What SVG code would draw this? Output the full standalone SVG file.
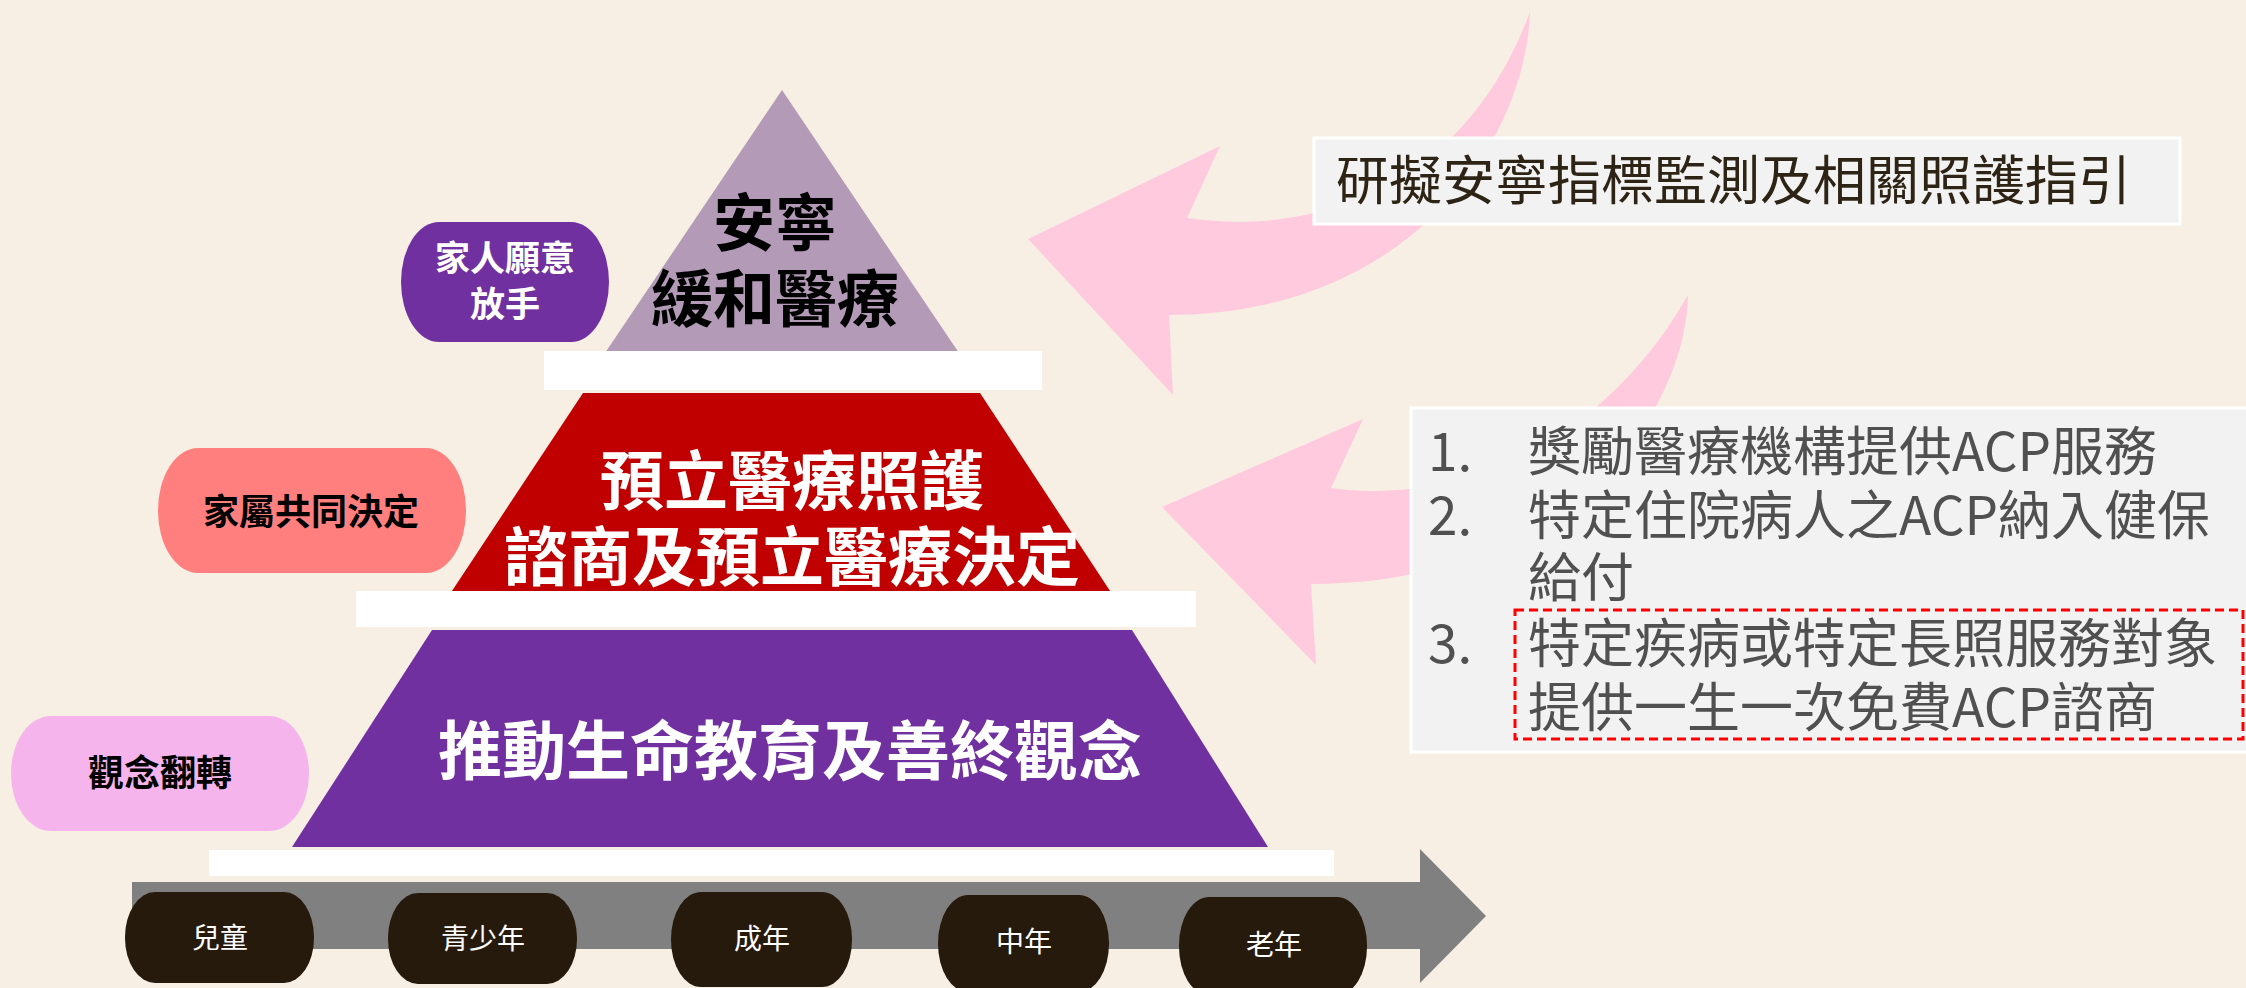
<svg xmlns="http://www.w3.org/2000/svg" width="2246" height="988" viewBox="0 0 2246 988">
<style>
text{font-family:"Noto Sans CJK TC","Noto Sans CJK SC",sans-serif}
.pyr{font-weight:bold;text-anchor:middle}
.lbl{font-weight:bold;text-anchor:middle;font-size:36px}
.age{fill:#ffffff;text-anchor:middle;font-size:28px}
.agepill{fill:#261a0c}
.bar{fill:#ffffff}
.pinkarrow{fill:#ffcade}
.box{fill:#f2f2f2;stroke:#ffffff;stroke-width:3}
.b2{font-size:53px;fill:#505050}
</style>
<rect x="0" y="0" width="2246" height="988" fill="#f7efe4"/>

<g id="arrows">
<path class="pinkarrow" d="M1530,12 C1525,150 1400,315 1169,315 L1173,395 L1028,239 L1220,146 L1187,218 C1300,235 1460,200 1530,12 Z"/>
<path class="pinkarrow" d="M1688,295 C1685,420 1560,584 1311,584 L1316,665 L1162,507 L1363,419 L1331,488 C1450,505 1600,450 1688,295 Z"/>
<path id="timeline" fill="#808080" d="M132,882 L1420,882 L1420,849 L1486,916 L1420,983 L1420,949 L132,949 Z"/>
</g>

<g id="tier-top">
<polygon points="782,90 605,353 959,353" fill="#b39ab7"/>
<text class="pyr" x="775" y="246" font-size="62" fill="#000000">安寧</text>
<text class="pyr" x="775" y="322" font-size="62" fill="#000000">緩和醫療</text>
</g>
<rect class="bar" x="544" y="351" width="498" height="39"/>

<g id="tier-middle">
<polygon points="583,393 980,393 1114,597 448,597" fill="#c00000"/>
<text class="pyr" x="792" y="504" font-size="64" fill="#ffffff">預立醫療照護</text>
<text class="pyr" x="792" y="580" font-size="64" fill="#ffffff">諮商及預立醫療決定</text>
</g>
<rect class="bar" x="356" y="591" width="840" height="36"/>

<g id="tier-bottom">
<polygon points="432,630 1132,630 1268,847 292,847" fill="#7030a0"/>
<text class="pyr" x="790" y="774" font-size="64" fill="#ffffff">推動生命教育及善終觀念</text>
</g>
<rect class="bar" x="209" y="850" width="1125" height="26"/>

<g id="pill-family-letgo">
<rect x="401" y="222" width="208" height="120" rx="38" ry="60" fill="#7030a0"/>
<text class="lbl" x="505" y="271" font-size="35" fill="#ffffff" style="font-size:35px">家人願意</text>
<text class="lbl" x="505" y="317" fill="#ffffff" style="font-size:35px">放手</text>
</g>
<g id="pill-family-decide">
<rect x="158" y="448" width="308" height="125" rx="40" ry="62" fill="#ff7f7f"/>
<text class="lbl" x="311" y="525" fill="#000000">家屬共同決定</text>
</g>
<g id="pill-mindset">
<rect x="11" y="716" width="298" height="115" rx="40" ry="57" fill="#f5b5ec"/>
<text class="lbl" x="160" y="786" fill="#000000">觀念翻轉</text>
</g>

<g id="age-child"><rect class="agepill" x="125" y="892" width="189" height="91" rx="30" ry="45"/><text class="age" x="220" y="948">兒童</text></g>
<g id="age-youth"><rect class="agepill" x="388" y="893" width="189" height="91" rx="30" ry="45"/><text class="age" x="483" y="949">青少年</text></g>
<g id="age-adult"><rect class="agepill" x="671" y="892" width="181" height="95" rx="30" ry="47"/><text class="age" x="762" y="949">成年</text></g>
<g id="age-middle"><rect class="agepill" x="938" y="895" width="171" height="97" rx="30" ry="48"/><text class="age" x="1024" y="952">中年</text></g>
<g id="age-old"><rect class="agepill" x="1179" y="897" width="188" height="98" rx="30" ry="48"/><text class="age" x="1274" y="955">老年</text></g>

<g id="box-guidelines">
<rect class="box" x="1314" y="138" width="866" height="86"/>
<text x="1336" y="200" font-size="53" fill="#2e2416">研擬安寧指標監測及相關照護指引</text>
</g>

<g id="box-acp">
<rect class="box" x="1411" y="408" width="840" height="344"/>
<text class="b2" x="1428" y="471">1.</text>
<text class="b2" x="1528" y="471">獎勵醫療機構提供ACP服務</text>
<text class="b2" x="1428" y="535">2.</text>
<text class="b2" x="1528" y="535">特定住院病人之ACP納入健保</text>
<text class="b2" x="1528" y="597">給付</text>
<text class="b2" x="1428" y="663">3.</text>
<text class="b2" x="1528" y="663">特定疾病或特定長照服務對象</text>
<text class="b2" x="1528" y="727">提供一生一次免費ACP諮商</text>
<rect x="1515" y="610" width="728" height="129" fill="none" stroke="#ff0000" stroke-width="3" stroke-dasharray="9,5"/>
</g>
</svg>
